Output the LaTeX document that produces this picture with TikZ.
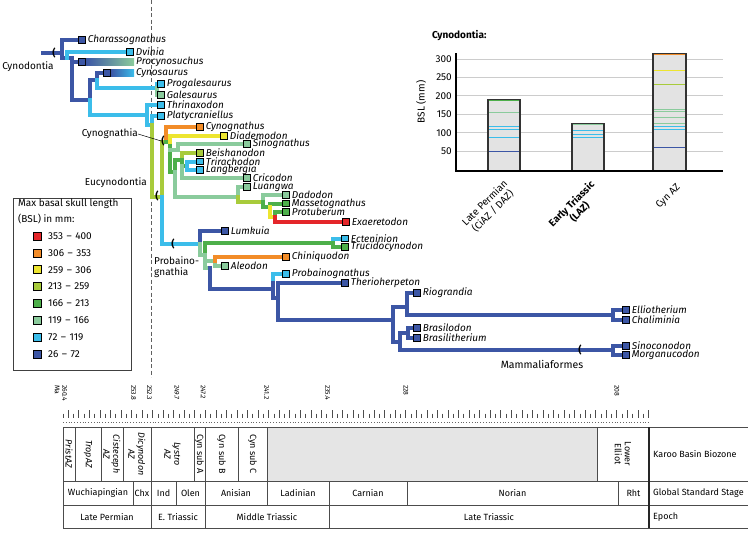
\documentclass[tikz,border=0pt]{standalone}
\usepackage{fontspec}
\setmainfont{Fira Sans}
\usepackage{tikz}
\usetikzlibrary{positioning, backgrounds}

\definecolor{cDb}{HTML}{3C56A5}
\definecolor{cLb}{HTML}{3BBDEA}
\definecolor{cMint}{HTML}{8ACB9C}
\definecolor{cGrn}{HTML}{4DAF4A}
\definecolor{cLime}{HTML}{A8CB3B}
\definecolor{cYel}{HTML}{EDE530}
\definecolor{cOrg}{HTML}{F28C28}
\definecolor{cRed}{HTML}{E4262A}

\newcommand{\fsz}[1]{\fontsize{#1}{#1}\selectfont}

\tikzset{
  br/.style={line width=4pt, line cap=rect, line join=miter},
  sq/.style={draw=black, line width=1pt, minimum size=6.5pt, inner sep=0pt},
  lab/.style={anchor=west, inner xsep=2pt, inner ysep=0pt, font=\fsz{10}\itshape},
  brk/.style={inner sep=0pt, font=\fsz{10}\bfseries},
  clade/.style={inner sep=0pt, font=\fontsize{10}{11.5}\selectfont},
  key/.style={draw=black, line width=0.8pt, minimum size=8pt, inner sep=0pt},
  bar/.style={draw=black!80, fill=black!11, line width=1.2pt},
  tick/.style={font=\fontsize{6.8}{7.5}\selectfont, rotate=-90, anchor=west, inner sep=0pt, align=left},
  tbl/.style={black!70, line width=1pt},
  cell/.style={inner sep=0pt, font=\fontsize{9}{10}\selectfont},
  zone/.style={cell, rotate=-90, align=center},
}

\newcommand{\taxon}[5]{%
  \node[sq, fill=#4] (#1) at (#2,#3) {};
  \node[lab] (#1-l) at (#1.east) {#5};
}

\begin{document}
\begin{tikzpicture}[x=1pt, y=-1pt]
\useasboundingbox (0,0) rectangle (748,533);

% taxa
\taxon{charasso}{82}{40}{cDb}{Charassognathus}
\taxon{dvinia}{130}{52}{cLb}{Dvinia}
\node[sq, fill=cDb] (procyno) at (82,62) {};
\node[lab] (procyno-l) at (134,62) {Procynosuchus};
\node[sq, fill=cDb] (cynosau) at (107,73) {};
\node[lab] (cynosau-l) at (134,73) {Cynosaurus};
\shade[left color=cDb, right color=cMint] (85.8,58.8) rectangle (134,65.2);
\shade[left color=cDb, right color=cLb] (110.8,69.8) rectangle (134,76.2);
\taxon{progal}{161}{84}{cLb}{Progalesaurus}
\taxon{gales}{161}{95}{cMint}{Galesaurus}
\taxon{thrinax}{161}{105}{cLb}{Thrinaxodon}
\taxon{platy}{161}{116}{cLb}{Platycraniellus}
\taxon{cynog}{200}{127}{cOrg}{Cynognathus}
\taxon{diadem}{224}{136}{cYel}{Diademodon}
\taxon{sinog}{247}{144}{cMint}{Sinognathus}
\taxon{beishan}{200}{153}{cLime}{Beishanodon}
\taxon{trirach}{200}{161.5}{cLb}{Trirachodon}
\taxon{langb}{200}{170}{cLb}{Langbergia}
\taxon{cricod}{247}{178}{cMint}{Cricodon}
\taxon{luangwa}{247}{187}{cMint}{Luangwa}
\taxon{dadodon}{286}{195}{cMint}{Dadodon}
\taxon{masseto}{286}{203.5}{cGrn}{Massetognathus}
\taxon{protub}{286}{212}{cGrn}{Protuberum}
\taxon{exaer}{346}{222}{cRed}{Exaeretodon}
\taxon{lumkuia}{225}{231}{cDb}{Lumkuia}
\taxon{ectenin}{345}{238.5}{cLb}{Ecteninion}
\taxon{trucido}{345}{247}{cGrn}{Trucidocynodon}
\taxon{chiniq}{286}{257}{cOrg}{Chiniquodon}
\taxon{aleodon}{225}{266}{cMint}{Aleodon}
\taxon{probain}{286}{274}{cLb}{Probainognathus}
\taxon{therio}{345}{283}{cDb}{Therioherpeton}
\taxon{riogr}{417}{293}{cDb}{Riograndia}
\taxon{ellio}{626}{310}{cDb}{Elliotherium}
\taxon{chalim}{626}{320}{cDb}{Chaliminia}
\taxon{brasilo}{417}{328}{cDb}{Brasilodon}
\taxon{brasilit}{417}{338}{cDb}{Brasilitherium}
\taxon{sinocon}{626}{346}{cDb}{Sinoconodon}
\taxon{morgan}{626}{355}{cDb}{Morganucodon}

\begin{scope}[on background layer]
  \draw[gray!75!black, line width=1pt, dash pattern=on 4pt off 2.5pt] (151,0) -- (151,377);
  % basal cynodonts
  \draw[br,cDb] (43,53) -- (62,53);
  \draw[br,cDb] (charasso.west) -- (62,40) -- (62,58) -- (72,58) -- (72,100) -- (90,100) -- (90,80) -- (97,80) -- (97,73) -- (cynosau.west);
  \draw[br,cDb] (72,62) -- (procyno.west);
  \draw[br,cLb] (67,58) -- (67,52) -- (dvinia.west);
  \draw[br,cLb] (97,80) -- (97,88) -- (157,88) -- (157,84) -- (progal.west);
  \draw[br,cMint] (157,88) -- (157,95) -- (gales.west);
  \draw[br,cLb] (90,100) -- (90,115) -- (147,115) -- (147,105) -- (thrinax.west);
  \draw[br,cLb] (147,115) -- (147,125) -- (152,125) -- (152,116) -- (platy.west);
  \draw[br,cLime] (152,125) -- (152,197) -- (162,197) -- (162,142) -- (166,142);
  % Cynognathia
  \draw[br,cOrg] (166,142) -- (166,127) -- (cynog.west);
  \draw[br,cGrn] (166,142) -- (170,142) -- (170,172) -- (175,172);
  \draw[br,cYel] (170,142) -- (170,136) -- (diadem.west);
  \draw[br,cMint] (170,150) -- (178,150) -- (178,144) -- (sinog.west);
  \draw[br,cGrn] (175,172) -- (175,160) -- (182,160);
  \draw[br,cMint] (175,172) -- (175,197) -- (238,197);
  \draw[br,cLime] (182,160) -- (182,153) -- (beishan.west);
  \draw[br,cGrn] (182,160) -- (182,166) -- (187,166);
  \draw[br,cLb] (187,166) -- (187,161.5) -- (trirach.west);
  \draw[br,cLb] (187,166) -- (187,170) -- (langb.west);
  \draw[br,cMint] (182,166) -- (182,178) -- (cricod.west);
  \draw[br,cMint] (238,197) -- (238,187) -- (luangwa.west);
  \draw[br,cLime] (238,197) -- (238,202) -- (263,202);
  \draw[br,cMint] (263,202) -- (263,195) -- (dadodon.west);
  \draw[br,cGrn] (263,202) -- (263,207) -- (270,207) -- (270,203.5) -- (masseto.west);
  \draw[br,cYel] (270,207) -- (270,217) -- (275,217);
  \draw[br,cGrn] (275,217) -- (275,212) -- (protub.west);
  \draw[br,cRed] (275,217) -- (275,222) -- (exaer.west);
  % Probainognathia
  \draw[br,cLb] (162,197) -- (162,244) -- (200,244);
  \draw[br,cDb] (200,244) -- (200,231) -- (lumkuia.west);
  \draw[br,cMint] (200,244) -- (200,255) -- (205,255);
  \draw[br,cGrn] (205,255) -- (205,243) -- (333,243);
  \draw[br,cLb] (333,243) -- (333,238.5) -- (ectenin.west);
  \draw[br,cGrn] (333,243) -- (333,247) -- (trucido.west);
  \draw[br,cMint] (205,255) -- (205,268) -- (210,268);
  \draw[br,cMint] (205,261) -- (215,261) -- (215,266) -- (aleodon.west);
  \draw[br,cOrg] (215,261) -- (215,257) -- (chiniq.west);
  \draw[br,cDb] (210,268) -- (210,289) -- (273,289) -- (273,298) -- (278,298) -- (278,283) -- (therio.west);
  \draw[br,cLb] (273,283) -- (273,274) -- (probain.west);
  \draw[br,cDb] (273,289) -- (273,283);
  \draw[br,cDb] (278,298) -- (278,320) -- (393,320);
  % Mammaliamorpha
  \draw[br,cDb] (393,320) -- (393,307) -- (407,307) -- (407,293) -- (riogr.west);
  \draw[br,cDb] (407,307) -- (407,315) -- (613,315) -- (613,310) -- (ellio.west);
  \draw[br,cDb] (613,315) -- (613,320) -- (chalim.west);
  \draw[br,cDb] (393,320) -- (393,342) -- (400,342) -- (400,333) -- (408,333) -- (408,328) -- (brasilo.west);
  \draw[br,cDb] (408,333) -- (408,338) -- (brasilit.west);
  \draw[br,cDb] (400,342) -- (400,350) -- (613,350) -- (613,346) -- (sinocon.west);
  \draw[br,cDb] (613,350) -- (613,355) -- (morgan.west);
\end{scope}

% clades
\node[brk] (bCyno) at (54,53) {(};
\node[brk] (bCynog) at (163,141) {(};
\node[brk] (bEucy) at (157,196) {(};
\node[brk] (bProb) at (173,244) {(};
\node[brk] (bMamm) at (580,350) {(};
\node[clade] (lCyno) at (28,67) {Cynodontia};
\node[clade, anchor=east] (lCynog) at (138,134) {Cynognathia};
\draw[line width=0.5pt] (lCynog.east) -- (bCynog.west);
\node[clade, anchor=east] (lEucy) at (147,183) {Eucynodontia};
\node[clade, anchor=north west, align=left] (lProb) at (154,256) {Probaino-\\gnathia};
\node[clade, font=\fsz{10.5}] (lMamm) at (542,364) {Mammaliaformes};

% legend
\draw[black!75, line width=1pt] (13,198) rectangle (131,370);
\node[clade, anchor=west] (legT1) at (18,204) {Max basal skull length};
\node[clade, anchor=west] (legT2) at (18,219) {(BSL) in mm:};
\foreach \c/\lo/\hi [count=\i from 0] in {cRed/353/400, cOrg/306/353, cYel/259/306, cLime/213/259, cGrn/166/213, cMint/119/166, cLb/72/119, cDb/26/72} {
  \node[key, fill=\c] (k\i) at (37,236+\i*16.9) {};
  \node[clade, anchor=west] (kl\i) at (48,236+\i*16.9) {\lo\hspace{3.5pt}\textendash\hspace{3.5pt}\hi};
}

% bar chart
\node[anchor=west, inner sep=0pt, font=\fsz{10}\bfseries] (bTitle) at (432,36) {Cynodontia:};
\foreach \v in {50,100,...,300} {
  \draw[black!20, line width=1pt] (456,169.5-\v*0.368) -- (723,169.5-\v*0.368);
  \node[anchor=east, inner sep=0pt, font=\fsz{10}] at (452,169.5-\v*0.368) {\v};
}
\node[rotate=90, inner sep=0pt, font=\fsz{10}] (yLab) at (421,102) {BSL (mm)};
\draw[bar] (488,171) rectangle (520,169.5-191*0.368);
\draw[bar] (572,171) rectangle (604,169.5-126*0.368);
\draw[bar] (653,171) rectangle (686,169.5-316*0.368);
\foreach \c/\v in {cGrn/188, cMint/156, cLb/118, cLb/110, cLb/88, cDb/48}
  \draw[\c, line width=1pt] (489,169.5-\v*0.368) -- (519,169.5-\v*0.368);
\foreach \c/\v in {cMint/121, cLb/107, cLb/96, cLb/86}
  \draw[\c, line width=1pt] (573,169.5-\v*0.368) -- (603,169.5-\v*0.368);
\foreach \c/\v in {cOrg/313, cYel/270, cLime/232, cMint/164, cMint/158, cMint/142, cMint/125, cLb/116, cLb/110, cDb/60}
  \draw[\c, line width=1pt] (654,169.5-\v*0.368) -- (685,169.5-\v*0.368);
\draw[black, line width=1.3pt] (456,53) -- (456,171) -- (723,171);
\node[rotate=45, anchor=east, align=center, inner sep=0pt, font=\fontsize{10}{11.5}\selectfont] (xLP) at (510,186) {Late Permian\\(CiAZ / DAZ)};
\node[rotate=45, anchor=east, align=center, inner sep=0pt, font=\fontsize{10}{11.5}\selectfont\bfseries] (xET) at (597,187) {Early Triassic\\(LAZ)};
\node[rotate=45, anchor=east, inner sep=0pt, font=\fsz{10}] (xCyn) at (679,186) {Cyn AZ};

% time scale
\foreach \k in {0,...,111} {
  \pgfmathsetmacro{\xx}{62.945+5.275*\k}
  \ifodd\k
    \draw[black!70, line width=0.7pt] (\xx,410) -- (\xx,418);
  \else
    \draw[black!70, line width=0.7pt] (\xx,413.5) -- (\xx,418);
  \fi
}
\node[tick] (t0) at (61,385) {260.4\\Ma};
\foreach \t [count=\i] in {253.8, 252.3, 249.7, 247.2, 241.2, 235.4, 228, 208}
  \node[tick] (t\i) at ({64+(260.4-\t)*10.55},385) {\t};
\draw[black!60, line width=0.8pt, dotted] (63,422) -- (649,422);

% stratigraphic table
\fill[black!10] (267,427) rectangle (597,481);
\foreach \y in {427,481,505,528}
  \draw[tbl] (63,\y) -- (748,\y);
\draw[tbl] (63,427) -- (63,528);
\foreach \x in {75,101,123,151,194,205,238,267,597}
  \draw[tbl] (\x,427) -- (\x,481);
\foreach \x in {133,151,176,205,267,329,407,618}
  \draw[tbl] (\x,481) -- (\x,505);
\foreach \x in {151,205,329}
  \draw[tbl] (\x,505) -- (\x,528);
\draw[black!85, line width=1.3pt] (649,427) -- (649,528);

\node[zone, font=\fontsize{9}{10}\selectfont\itshape] (z1) at (69,454) {PristAZ};
\node[zone, font=\fontsize{9}{10}\selectfont\itshape] (z2) at (88,454) {TropAZ};
\node[zone, font=\fontsize{9}{10}\selectfont\itshape] (z3) at (112,454) {Cisteceph\\AZ};
\node[zone, font=\fontsize{9}{10}\selectfont\itshape] (z4) at (137,454) {Dicynodon\\AZ};
\node[zone, font=\fontsize{9}{10}\selectfont\itshape] (z5) at (172.5,454) {Lystro\\AZ};
\node[zone] (z6) at (199.5,454) {Cyn sub A};
\node[zone] (z7) at (221.5,454) {Cyn sub B};
\node[zone] (z8) at (252.5,454) {Cyn sub C};
\node[zone] (z9) at (623,454) {Lower\\Elliot};

\node[cell] (s1) at (98,493) {Wuchiapingian};
\node[cell] (s2) at (142,493) {Chx};
\node[cell] (s3) at (163.5,493) {Ind};
\node[cell] (s4) at (190.5,493) {Olen};
\node[cell] (s5) at (236,493) {Anisian};
\node[cell] (s6) at (298,493) {Ladinian};
\node[cell] (s7) at (368,493) {Carnian};
\node[cell] (s8) at (512.5,493) {Norian};
\node[cell] (s9) at (633.5,493) {Rht};

\node[cell] (e1) at (107,517) {Late Permian};
\node[cell] (e2) at (178,517) {E. Triassic};
\node[cell] (e3) at (267,517) {Middle Triassic};
\node[cell] (e4) at (489,517) {Late Triassic};

\node[cell, anchor=west] (r1) at (653,454) {Karoo Basin Biozone};
\node[cell, anchor=west] (r2) at (653,493) {Global Standard Stage};
\node[cell, anchor=west] (r3) at (653,517) {Epoch};
\end{tikzpicture}
\end{document}
